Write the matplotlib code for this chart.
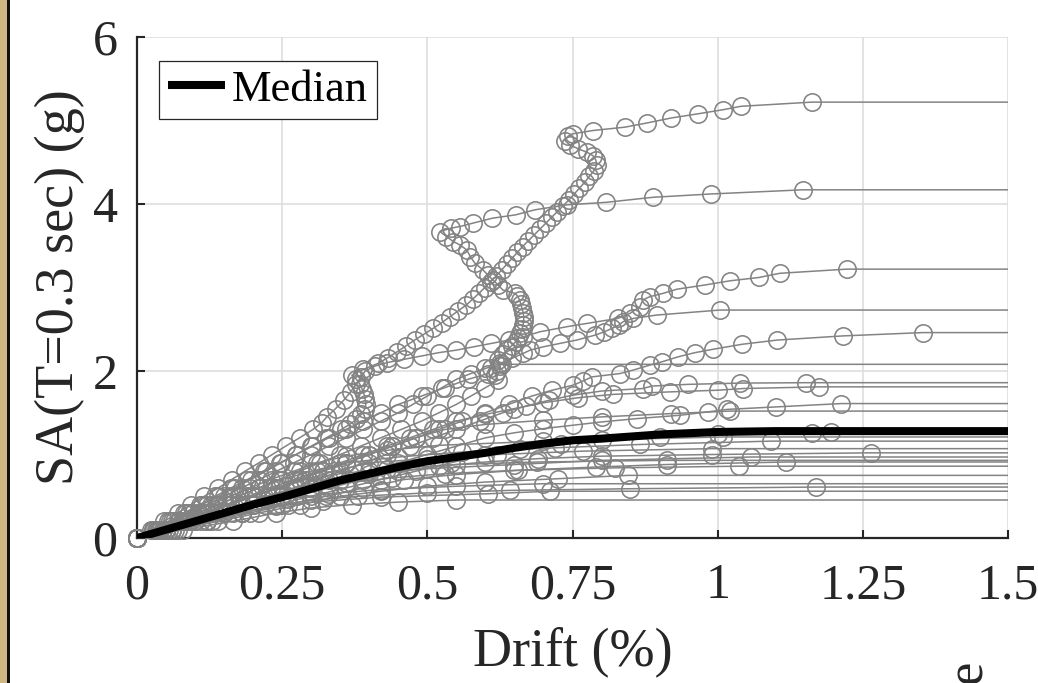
import matplotlib
matplotlib.use("Agg")
import matplotlib.pyplot as plt
from matplotlib.patches import Rectangle

plt.rcParams['font.family'] = ['Liberation Serif', 'DejaVu Serif']

# ---------------- data ----------------
x_ticks = [0, 0.25, 0.5, 0.75, 1, 1.25, 1.5]
x_tick_labels = ['0', '0.25', '0.5', '0.75', '1', '1.25', '1.5']
y_ticks = [0, 2, 4, 6]
y_tick_labels = ['0', '2', '4', '6']
x_max = 1.5

# IDA curves: drift (%) and SA(T=0.3 s) (g)
gm01_drift = [0, 0.028, 0.056, 0.084, 0.112, 0.14, 0.168, 0.196, 0.222, 0.248, 0.274, 0.3, 0.326, 0.352, 0.366, 0.378, 0.386, 0.392, 0.394, 0.393, 0.391, 0.388, 0.384, 0.378, 0.37,
              0.39, 0.415, 0.432, 0.448, 0.463, 0.478, 0.494, 0.51, 0.525, 0.539, 0.553, 0.567, 0.578, 0.589, 0.599, 0.609, 0.619, 0.628, 0.637, 0.646, 0.655, 0.664, 0.674, 0.684, 0.694, 0.704, 0.714, 0.724, 0.734, 0.744, 0.753, 0.762, 0.771, 0.779, 0.787,
              0.792, 0.79, 0.785, 0.775, 0.76, 0.745, 0.737, 0.742, 0.75, 0.785, 0.84, 0.878, 0.92, 0.966, 1.01, 1.04, 1.162]
gm01_sa = [0, 0.1, 0.2, 0.3, 0.4, 0.5, 0.6, 0.7, 0.8, 0.9, 1.0, 1.1, 1.2, 1.3, 1.36, 1.42, 1.48, 1.54, 1.6, 1.66, 1.72, 1.78, 1.84, 1.9, 1.95,
           2.02, 2.09, 2.16, 2.23, 2.30, 2.37, 2.44, 2.51, 2.58, 2.65, 2.72, 2.79, 2.86, 2.93, 3.00, 3.07, 3.14, 3.21, 3.28, 3.35, 3.42, 3.49, 3.56, 3.63, 3.70, 3.77, 3.84, 3.91, 3.98, 4.05, 4.12, 4.19, 4.26, 4.33, 4.40,
           4.47, 4.53, 4.58, 4.62, 4.66, 4.71, 4.76, 4.81, 4.84, 4.88, 4.92, 4.97, 5.03, 5.08, 5.13, 5.17, 5.22]

gm02_drift = [0, 0.036, 0.072, 0.106, 0.14, 0.175, 0.21, 0.245, 0.28, 0.315, 0.35, 0.385, 0.42, 0.455, 0.49, 0.52, 0.55, 0.575, 0.6,
              0.622, 0.617, 0.62, 0.625, 0.622, 0.63, 0.637, 0.645, 0.652, 0.657, 0.66, 0.663, 0.665, 0.666, 0.666, 0.665, 0.663, 0.661, 0.659, 0.655,
              0.651, 0.63, 0.622, 0.613, 0.604, 0.596, 0.582, 0.574, 0.568, 0.556, 0.545, 0.533,
              0.522, 0.54, 0.556, 0.578, 0.612, 0.652, 0.685, 0.74, 0.808, 0.888, 0.988, 1.147]
gm02_sa = [0, 0.1, 0.2, 0.3, 0.4, 0.5, 0.6, 0.7, 0.8, 0.9, 1.0, 1.1, 1.2, 1.3, 1.4, 1.5, 1.6, 1.7, 1.8,
           1.89, 1.95, 2.0, 2.06, 2.13, 2.2, 2.25, 2.3, 2.35, 2.4, 2.45, 2.5, 2.55, 2.6, 2.65, 2.7, 2.75, 2.8, 2.85, 2.9,
           2.93, 2.97, 3.03, 3.09, 3.15, 3.21, 3.29, 3.37, 3.45, 3.51, 3.55, 3.61,
           3.67, 3.71, 3.73, 3.77, 3.83, 3.87, 3.93, 3.99, 4.02, 4.08, 4.12, 4.17]

gm03_drift = [0, 0.024, 0.047, 0.07, 0.093, 0.116, 0.14, 0.163, 0.186, 0.21, 0.233, 0.256, 0.28, 0.303,
              0.318, 0.327, 0.342, 0.356, 0.368, 0.378, 0.386, 0.393,
              0.41, 0.43, 0.46, 0.49, 0.52, 0.55, 0.58, 0.61, 0.64, 0.665,
              0.694, 0.74, 0.775, 0.828, 0.849, 0.866, 0.871, 0.883, 0.906, 0.93,
              0.978, 1.021, 1.071, 1.107, 1.222]
gm03_sa = [0, 0.1, 0.2, 0.3, 0.4, 0.5, 0.6, 0.7, 0.8, 0.9, 1.0, 1.1, 1.2, 1.3,
           1.38, 1.45, 1.55, 1.65, 1.75, 1.85, 1.93, 2.0,
           2.06, 2.1, 2.14, 2.18, 2.22, 2.25, 2.29, 2.33, 2.37, 2.41,
           2.47, 2.53, 2.57, 2.63, 2.69, 2.77, 2.85, 2.89, 2.93, 2.98,
           3.03, 3.08, 3.12, 3.17, 3.22]

gm04_drift = [0, 0.03, 0.06, 0.09, 0.12, 0.15, 0.18, 0.21, 0.24, 0.27, 0.3, 0.33, 0.36, 0.39, 0.42, 0.45, 0.475, 0.5, 0.525, 0.55,
              0.575, 0.6, 0.625, 0.645, 0.665, 0.677, 0.7, 0.728, 0.757, 0.789,
              0.805, 0.818, 0.83, 0.837, 0.855, 0.895, 1.004]
gm04_sa = [0, 0.1, 0.2, 0.3, 0.4, 0.5, 0.6, 0.7, 0.8, 0.9, 1.0, 1.1, 1.2, 1.3, 1.4, 1.5, 1.6, 1.7, 1.8, 1.9,
           1.97, 2.03, 2.09, 2.15, 2.21, 2.25, 2.29, 2.33, 2.37, 2.43,
           2.47, 2.51, 2.55, 2.59, 2.63, 2.67, 2.73]

gm05_drift = [0, 0.04, 0.08, 0.12, 0.16, 0.2, 0.24, 0.28, 0.32, 0.36, 0.4, 0.44, 0.48, 0.52, 0.56, 0.6, 0.64, 0.68,
              0.715, 0.751, 0.768, 0.784, 0.832, 0.854, 0.883, 0.904, 0.932, 0.961,
              0.992, 1.042, 1.102, 1.215, 1.353]
gm05_sa = [0, 0.1, 0.2, 0.3, 0.4, 0.5, 0.6, 0.7, 0.8, 0.9, 1.0, 1.1, 1.2, 1.3, 1.4, 1.5, 1.6, 1.7,
           1.77, 1.83, 1.88, 1.93, 1.97, 2.01, 2.07, 2.11, 2.17, 2.22,
           2.26, 2.32, 2.37, 2.42, 2.46]

gm06_drift = [0, 0.027, 0.054, 0.081, 0.108, 0.135, 0.162, 0.19, 0.218, 0.246, 0.274, 0.302, 0.33, 0.36, 0.39, 0.42, 0.45, 0.49, 0.53, 0.57, 0.605, 0.61, 0.628]
gm06_sa = [0, 0.1, 0.2, 0.3, 0.4, 0.5, 0.6, 0.7, 0.8, 0.9, 1.0, 1.1, 1.2, 1.3, 1.4, 1.5, 1.6, 1.7, 1.8, 1.9, 1.97, 2.03, 2.08]

gm07_drift = [0, 0.045, 0.09, 0.135, 0.18, 0.225, 0.27, 0.31, 0.35, 0.39, 0.43, 0.47, 0.51, 0.55, 0.59, 0.63,
              0.67, 0.71, 0.75, 0.8, 0.871, 0.887, 0.949, 1.038, 1.152]
gm07_sa = [0, 0.1, 0.2, 0.3, 0.4, 0.5, 0.6, 0.7, 0.8, 0.9, 1.0, 1.1, 1.2, 1.3, 1.4, 1.5,
           1.58, 1.65, 1.71, 1.76, 1.79, 1.82, 1.84, 1.855, 1.86]

gm08_drift = [0, 0.038, 0.077, 0.115, 0.154, 0.192, 0.23, 0.27, 0.31, 0.35, 0.39, 0.43, 0.47, 0.51, 0.55,
              0.6, 0.65, 0.7, 0.76, 0.82, 0.918, 1.0, 1.044, 1.174]
gm08_sa = [0, 0.1, 0.2, 0.3, 0.4, 0.5, 0.6, 0.7, 0.8, 0.9, 1.0, 1.1, 1.2, 1.3, 1.4,
           1.48, 1.55, 1.62, 1.68, 1.72, 1.75, 1.77, 1.79, 1.81]

gm09_drift = [0, 0.05, 0.1, 0.15, 0.2, 0.25, 0.3, 0.35, 0.4, 0.45, 0.5, 0.55, 0.6,
              0.65, 0.7, 0.75, 0.8, 0.861, 0.935, 0.983, 1.016, 1.101, 1.213]
gm09_sa = [0, 0.1, 0.2, 0.3, 0.4, 0.5, 0.6, 0.7, 0.8, 0.9, 1.0, 1.1, 1.2,
           1.26, 1.31, 1.35, 1.39, 1.43, 1.47, 1.51, 1.54, 1.57, 1.61]

gm10_drift = [0, 0.04, 0.08, 0.12, 0.16, 0.2, 0.24, 0.28, 0.32, 0.36, 0.4, 0.44, 0.48, 0.53, 0.6, 0.7, 0.8, 0.92, 1.021]
gm10_sa = [0, 0.1, 0.2, 0.3, 0.4, 0.5, 0.6, 0.7, 0.8, 0.9, 1.0, 1.1, 1.2, 1.3, 1.36, 1.41, 1.45, 1.49, 1.52]

gm11_drift = [0, 0.06, 0.12, 0.18, 0.24, 0.3, 0.36, 0.42, 0.48, 0.54, 0.6, 0.66, 0.73, 0.8, 0.9, 1.0, 1.162, 1.196]
gm11_sa = [0, 0.1, 0.2, 0.3, 0.4, 0.5, 0.6, 0.7, 0.8, 0.9, 1.0, 1.06, 1.12, 1.17, 1.21, 1.24, 1.26, 1.27]

gm12_drift = [0, 0.035, 0.07, 0.105, 0.14, 0.175, 0.21, 0.25, 0.3, 0.36, 0.45, 0.56, 0.72, 0.866, 1.092]
gm12_sa = [0, 0.1, 0.2, 0.3, 0.4, 0.5, 0.6, 0.7, 0.8, 0.9, 0.97, 1.03, 1.08, 1.12, 1.16]

gm13_drift = [0, 0.055, 0.11, 0.165, 0.22, 0.275, 0.33, 0.39, 0.45, 0.52, 0.6, 0.69, 0.8, 0.99, 1.264]
gm13_sa = [0, 0.1, 0.2, 0.3, 0.4, 0.5, 0.6, 0.7, 0.8, 0.86, 0.91, 0.95, 0.98, 1.0, 1.02]

gm14_drift = [0, 0.04, 0.08, 0.12, 0.16, 0.2, 0.245, 0.29, 0.34, 0.4, 0.5, 0.62, 0.768, 0.99]
gm14_sa = [0, 0.1, 0.2, 0.3, 0.4, 0.5, 0.6, 0.7, 0.8, 0.9, 0.95, 1.0, 1.04, 1.07]

gm15_drift = [0, 0.045, 0.09, 0.135, 0.18, 0.225, 0.275, 0.33, 0.4, 0.5, 0.65, 0.8, 1.058]
gm15_sa = [0, 0.1, 0.2, 0.3, 0.4, 0.5, 0.6, 0.7, 0.77, 0.83, 0.88, 0.93, 0.97]

gm16_drift = [0, 0.065, 0.13, 0.195, 0.26, 0.325, 0.39, 0.46, 0.55, 0.656, 0.79, 0.912, 1.117]
gm16_sa = [0, 0.1, 0.2, 0.3, 0.4, 0.5, 0.6, 0.7, 0.76, 0.81, 0.85, 0.88, 0.91]

gm17_drift = [0, 0.05, 0.1, 0.15, 0.2, 0.25, 0.3, 0.36, 0.44, 0.53, 0.65, 0.823, 1.037]
gm17_sa = [0, 0.1, 0.2, 0.3, 0.4, 0.5, 0.6, 0.66, 0.72, 0.77, 0.81, 0.84, 0.86]

gm18_drift = [0, 0.07, 0.14, 0.21, 0.28, 0.35, 0.42, 0.5, 0.6, 0.725, 0.846]
gm18_sa = [0, 0.1, 0.2, 0.3, 0.4, 0.5, 0.56, 0.62, 0.67, 0.71, 0.75]

gm19_drift = [0, 0.05, 0.1, 0.15, 0.2, 0.26, 0.33, 0.42, 0.55, 0.7]
gm19_sa = [0, 0.1, 0.2, 0.3, 0.4, 0.47, 0.53, 0.58, 0.62, 0.65]

gm20_drift = [0, 0.06, 0.12, 0.18, 0.25, 0.3, 0.38, 0.5, 0.642, 0.849, 1.169]
gm20_sa = [0, 0.1, 0.2, 0.3, 0.4, 0.45, 0.5, 0.54, 0.57, 0.59, 0.61]

gm21_drift = [0, 0.08, 0.165, 0.24, 0.3, 0.37, 0.45, 0.55]
gm21_sa = [0, 0.1, 0.2, 0.3, 0.36, 0.4, 0.43, 0.455]

gm22_drift = [0, 0.06, 0.12, 0.18, 0.24, 0.32, 0.42, 0.605, 0.711]
gm22_sa = [0, 0.1, 0.2, 0.3, 0.38, 0.44, 0.49, 0.53, 0.56]

gm23_drift = [0, 0.032, 0.064, 0.096, 0.128, 0.16, 0.195, 0.23, 0.27, 0.31, 0.36, 0.43, 0.52, 0.7, 1.01]
gm23_sa = [0, 0.1, 0.2, 0.3, 0.4, 0.5, 0.6, 0.7, 0.8, 0.9, 0.98, 1.05, 1.11, 1.16, 1.21]

gm24_drift = [0, 0.04, 0.08, 0.12, 0.16, 0.2, 0.24, 0.29, 0.35, 0.43, 0.55, 0.689, 0.912]
gm24_sa = [0, 0.1, 0.2, 0.3, 0.4, 0.5, 0.6, 0.7, 0.77, 0.83, 0.88, 0.91, 0.93]

median_drift = [0, 0.05, 0.1, 0.15, 0.2, 0.25, 0.3, 0.35, 0.4, 0.45, 0.5, 0.55, 0.6, 0.65, 0.7, 0.75, 0.8, 0.9, 1.0, 1.1, 1.2, 1.5]
median_sa = [0, 0.1, 0.2, 0.3, 0.4, 0.49, 0.59, 0.69, 0.77, 0.85, 0.92, 0.97, 1.02, 1.08, 1.13, 1.17, 1.19, 1.24, 1.27, 1.28, 1.28, 1.28]

curves = [
    (gm01_drift, gm01_sa), (gm02_drift, gm02_sa), (gm03_drift, gm03_sa), (gm04_drift, gm04_sa),
    (gm05_drift, gm05_sa), (gm06_drift, gm06_sa), (gm07_drift, gm07_sa), (gm08_drift, gm08_sa),
    (gm09_drift, gm09_sa), (gm10_drift, gm10_sa), (gm11_drift, gm11_sa), (gm12_drift, gm12_sa),
    (gm13_drift, gm13_sa), (gm14_drift, gm14_sa), (gm15_drift, gm15_sa), (gm16_drift, gm16_sa),
    (gm17_drift, gm17_sa), (gm18_drift, gm18_sa), (gm19_drift, gm19_sa), (gm20_drift, gm20_sa),
    (gm21_drift, gm21_sa), (gm22_drift, gm22_sa), (gm23_drift, gm23_sa), (gm24_drift, gm24_sa),
]

# ---------------- drawing ----------------
W, H = 1038, 683
fig = plt.figure(figsize=(W / 100, H / 100), dpi=100)
fig.patch.set_facecolor('white')

# decorative page strip on the left
fig.add_artist(Rectangle((0, 0), 7 / W, 1, transform=fig.transFigure, facecolor='#cdb882', edgecolor='none'))
fig.add_artist(Rectangle((7 / W, 0), 3 / W, 1, transform=fig.transFigure, facecolor='#111111', edgecolor='none'))

ax = fig.add_axes([137 / W, 145 / H, 871 / W, 501 / H])

gray = '#838383'
for d, s in curves:
    ax.plot(list(d) + [x_max], list(s) + [s[-1]], color=gray, lw=1.1, zorder=2)
    ax.plot(d, s, ls='none', marker='o', ms=12.5, mfc='none', mec=gray, mew=1.15, zorder=3, clip_on=False)

ax.plot(median_drift, median_sa, color='black', lw=5.8, zorder=5, label='Median', solid_capstyle='butt')

ax.set_xlim(0, x_max)
ax.set_ylim(0, 6)
ax.set_xticks(x_ticks)
ax.set_xticklabels(x_tick_labels)
ax.set_yticks(y_ticks)
ax.set_yticklabels(y_tick_labels)

ax.grid(True, color='#dedede', lw=1.2, zorder=0)
ax.set_axisbelow(True)
for sp in ['top', 'right']:
    ax.spines[sp].set_visible(False)
for sp in ['left', 'bottom']:
    ax.spines[sp].set_linewidth(1.6)
    ax.spines[sp].set_color('#262626')

ax.tick_params(axis='both', direction='in', length=6, width=1.5, colors='#262626', labelcolor='#262626')
ax.tick_params(axis='x', labelsize=36, pad=18)
ax.tick_params(axis='y', labelsize=36, pad=14)

ax.set_xlabel('Drift (%)', fontsize=39, color='#262626', labelpad=12)
ax.set_ylabel('SA(T=0.3 sec) (g)', fontsize=39, color='#262626')
ax.yaxis.set_label_coords(-0.06, 0.5)

leg = ax.legend(loc='upper left', bbox_to_anchor=(0.025, 0.952), borderaxespad=0, fontsize=32,
                frameon=True, fancybox=False, framealpha=1, edgecolor='#262626',
                handlelength=1.3, handletextpad=0.15, borderpad=0.2)
leg.get_frame().set_linewidth(0.9)

fig.text(968 / W, 0.0, 'e', rotation=90, fontsize=38, color='#262626', ha='center', va='bottom')

fig.savefig('out.png', dpi=100)
